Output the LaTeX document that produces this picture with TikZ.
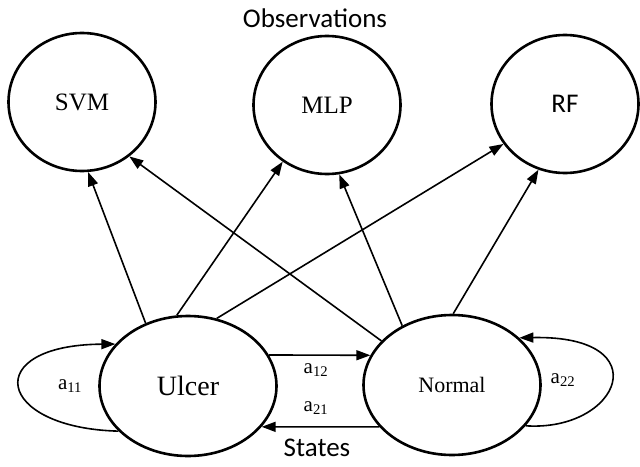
\documentclass[tikz,border=0pt]{standalone}
\usepackage{fontspec}
\setmainfont{Liberation Serif}
\newfontfamily\calib{Carlito}
\usetikzlibrary{shapes.geometric,arrows.meta}
\tikzset{
  obsnode/.style={draw, ellipse, line width=2.6pt, inner sep=0pt, minimum width=147pt, minimum height=138pt},
  statenode/.style={draw, ellipse, line width=2.6pt, inner sep=0pt, minimum width=177pt, minimum height=140pt},
  arr/.style={line width=1.6pt, -{Triangle[length=14pt,width=10pt]}},
  serif/.style={font=\fontsize{25}{30}\selectfont},
  sans/.style={font=\calib\fontsize{27}{32}\selectfont},
  lbl/.style={font=\fontsize{21}{25}\selectfont, inner sep=1pt}
}
\begin{document}
\begin{tikzpicture}[x=1pt,y=-1pt]
\useasboundingbox (0,0) rectangle (640,466);
\node[sans] (obs) at (315,18) {Observations};
\node[obsnode, serif] (svm) at (82,102) {SVM};
\node[obsnode, serif] (mlp) at (327,105) {MLP};
\node[obsnode, sans] (rf) at (565,104) {RF};
\node[statenode, font=\fontsize{28}{32}\selectfont] (u) at (188,386) {Ulcer};
\node[statenode, font=\fontsize{22}{26}\selectfont] (n) at (452,385) {Normal};
\node[sans] (st) at (317,448) {States};
% emissions
\draw[arr] (u.124) -- (svm.-85);
\draw[arr] (u.99) -- (mlp.232);
\draw[arr] (u.67) -- (rf.213);
\draw[arr] (n.148) -- (svm.-49);
\draw[arr] (n.130) -- (mlp.-80);
\draw[arr] (n.89) -- (rf.248);
% transitions
\draw[arr] (u.21) -- (n.160);
\draw[arr] (n.-150) -- (u.-29);
\draw[arr] (u.213) .. controls (-5,428) and (-20,345) .. (u.150);
\draw[arr] (n.-29) .. controls (620,432) and (660,335) .. (n.35);
% labels
\node[lbl] (l11) at (70,386) {a\textsubscript{11}};
\node[lbl] (l22) at (563,380) {a\textsubscript{22}};
\node[lbl] (l12) at (316,370) {a\textsubscript{12}};
\node[lbl] (l21) at (316,408) {a\textsubscript{21}};
\end{tikzpicture}
\end{document}
